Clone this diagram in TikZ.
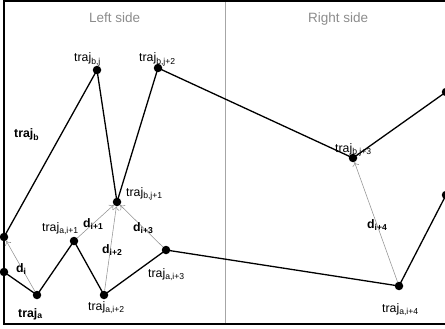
\documentclass[tikz,border=0pt]{standalone}
\usepackage{fontspec}
\setmainfont{Liberation Sans}
\usetikzlibrary{arrows.meta}
\begin{document}
\begin{tikzpicture}[x=1pt,y=-1pt,
  pt/.style={circle,fill=black,inner sep=0pt,minimum size=8.5pt},
  trajline/.style={line width=1.3pt,black,line join=round},
  dist/.style={draw=gray!85,line width=0.55pt,-{To[length=4pt,width=7pt]}},
  lbl/.style={font=\fontsize{12.3}{14}\selectfont,inner sep=0pt,anchor=base west},
  blbl/.style={lbl,font=\fontsize{12.3}{14}\selectfont\bfseries},
  side/.style={lbl,font=\fontsize{13.5}{15}\selectfont,text=gray!90}]
\useasboundingbox (0,0) rectangle (445,329);

% frame and divider
\draw[line width=2pt] (446,1.5) -- (3.5,1.5) -- (3.5,324) -- (446,324);
\draw[gray!70,line width=1pt] (225,2.5) -- (225,323);
\node[side] (lside) at (89,23) {Left side};
\node[side] (rside) at (308,23) {Right side};

% trajectory b
\node[pt] (b0) at (4,237) {};
\node[pt] (b1) at (97,70) {};
\node[pt] (b2) at (117,202) {};
\node[pt] (b3) at (158,68) {};
\node[pt] (b4) at (353,158) {};
\node[pt] (b5) at (446,92) {};

% trajectory a
\node[pt] (a0) at (4,272) {};
\node[pt] (a1) at (37,295) {};
\node[pt] (a2) at (74,241) {};
\node[pt] (a3) at (104,295) {};
\node[pt] (a4) at (166,250) {};
\node[pt] (a5) at (399,286) {};
\node[pt] (a6) at (446,195) {};

\draw[trajline] (b0.center) -- (b1.center) -- (b2.center) -- (b3.center) -- (b4.center) -- (b5.center);
\draw[trajline] (a0.center) -- (a1.center) -- (a2.center) -- (a3.center) -- (a4.center) -- (a5.center) -- (a6.center);

% distances between the two trajectories
\draw[dist] (a1) -- (b0);
\draw[dist] (a2) -- (b2);
\draw[dist] (a3) -- (b2);
\draw[dist] (a4) -- (b2);
\draw[dist] (a5) -- (b4);

% labels
\node[blbl] (ltb) at (14,138) {traj\textsubscript{b}};
\node[blbl] (lta) at (18,317) {traj\textsubscript{a}};
\node[lbl] (lb1) at (74,62) {traj\textsubscript{b,j}};
\node[lbl] (lb3) at (139,62) {traj\textsubscript{b,j+2}};
\node[lbl] (lb2) at (126,196) {traj\textsubscript{b,j+1}};
\node[lbl] (lb4) at (335,152) {traj\textsubscript{b,j+3}};
\node[lbl] (la2) at (42,231) {traj\textsubscript{a,i+1}};
\node[lbl] (la3) at (88,310) {traj\textsubscript{a,i+2}};
\node[lbl] (la4) at (148,277) {traj\textsubscript{a,i+3}};
\node[lbl] (la5) at (382,312) {traj\textsubscript{a,i+4}};

\node[blbl] (d0) at (16,272) {d\textsubscript{i}};
\node[blbl] (d1) at (83,227) {d\textsubscript{i+1}};
\node[blbl] (d2) at (102,253) {d\textsubscript{i+2}};
\node[blbl] (d3) at (133,231) {d\textsubscript{i+3}};
\node[blbl] (d4) at (367,228) {d\textsubscript{i+4}};
\end{tikzpicture}
\end{document}
